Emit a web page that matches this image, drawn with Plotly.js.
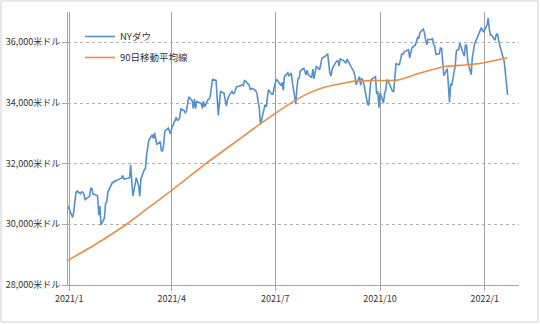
<!DOCTYPE html>
<html><head><meta charset="utf-8">
<script src="https://cdn.plot.ly/plotly-3.0.1.min.js"></script>
<style>html,body{margin:0;padding:0;background:#fff}#chart{width:540px;height:324px}</style>
</head><body><div id="chart"></div>
<script>
// NY Dow daily closes (2020/12/31 - 2022/1/21)
const dowDates = [
'2020-12-31',
'2021-01-04','2021-01-05','2021-01-06','2021-01-07','2021-01-08','2021-01-11','2021-01-12','2021-01-13','2021-01-14','2021-01-15','2021-01-19','2021-01-20','2021-01-21','2021-01-22','2021-01-25','2021-01-26','2021-01-27','2021-01-28','2021-01-29',
'2021-02-01','2021-02-02','2021-02-03','2021-02-04','2021-02-05','2021-02-08','2021-02-09','2021-02-10','2021-02-11','2021-02-12','2021-02-16','2021-02-17','2021-02-18','2021-02-19','2021-02-22','2021-02-23','2021-02-24','2021-02-25','2021-02-26',
'2021-03-01','2021-03-02','2021-03-03','2021-03-04','2021-03-05','2021-03-08','2021-03-09','2021-03-10','2021-03-11','2021-03-12','2021-03-15','2021-03-16','2021-03-17','2021-03-18','2021-03-19','2021-03-22','2021-03-23','2021-03-24','2021-03-25','2021-03-26','2021-03-29','2021-03-30','2021-03-31',
'2021-04-01','2021-04-05','2021-04-06','2021-04-07','2021-04-08','2021-04-09','2021-04-12','2021-04-13','2021-04-14','2021-04-15','2021-04-16','2021-04-19','2021-04-20','2021-04-21','2021-04-22','2021-04-23','2021-04-26','2021-04-27','2021-04-28','2021-04-29','2021-04-30',
'2021-05-03','2021-05-04','2021-05-05','2021-05-06','2021-05-07','2021-05-10','2021-05-11','2021-05-12','2021-05-13','2021-05-14','2021-05-17','2021-05-18','2021-05-19','2021-05-20','2021-05-21','2021-05-24','2021-05-25','2021-05-26','2021-05-27','2021-05-28',
'2021-06-01','2021-06-02','2021-06-03','2021-06-04','2021-06-07','2021-06-08','2021-06-09','2021-06-10','2021-06-11','2021-06-14','2021-06-15','2021-06-16','2021-06-17','2021-06-18','2021-06-21','2021-06-22','2021-06-23','2021-06-24','2021-06-25','2021-06-28','2021-06-29','2021-06-30',
'2021-07-01','2021-07-02','2021-07-06','2021-07-07','2021-07-08','2021-07-09','2021-07-12','2021-07-13','2021-07-14','2021-07-15','2021-07-16','2021-07-19','2021-07-20','2021-07-21','2021-07-22','2021-07-23','2021-07-26','2021-07-27','2021-07-28','2021-07-29','2021-07-30',
'2021-08-02','2021-08-03','2021-08-04','2021-08-05','2021-08-06','2021-08-09','2021-08-10','2021-08-11','2021-08-12','2021-08-13','2021-08-16','2021-08-17','2021-08-18','2021-08-19','2021-08-20','2021-08-23','2021-08-24','2021-08-25','2021-08-26','2021-08-27','2021-08-30','2021-08-31',
'2021-09-01','2021-09-02','2021-09-03','2021-09-07','2021-09-08','2021-09-09','2021-09-10','2021-09-13','2021-09-14','2021-09-15','2021-09-16','2021-09-17','2021-09-20','2021-09-21','2021-09-22','2021-09-23','2021-09-24','2021-09-27','2021-09-28','2021-09-29','2021-09-30',
'2021-10-01','2021-10-04','2021-10-05','2021-10-06','2021-10-07','2021-10-08','2021-10-11','2021-10-12','2021-10-13','2021-10-14','2021-10-15','2021-10-18','2021-10-19','2021-10-20','2021-10-21','2021-10-22','2021-10-25','2021-10-26','2021-10-27','2021-10-28','2021-10-29',
'2021-11-01','2021-11-02','2021-11-03','2021-11-04','2021-11-05','2021-11-08','2021-11-09','2021-11-10','2021-11-11','2021-11-12','2021-11-15','2021-11-16','2021-11-17','2021-11-18','2021-11-19','2021-11-22','2021-11-23','2021-11-24','2021-11-26','2021-11-29','2021-11-30',
'2021-12-01','2021-12-02','2021-12-03','2021-12-06','2021-12-07','2021-12-08','2021-12-09','2021-12-10','2021-12-13','2021-12-14','2021-12-15','2021-12-16','2021-12-17','2021-12-20','2021-12-21','2021-12-22','2021-12-23','2021-12-27','2021-12-28','2021-12-29','2021-12-30','2021-12-31',
'2022-01-03','2022-01-04','2022-01-05','2022-01-06','2022-01-07','2022-01-10','2022-01-11','2022-01-12','2022-01-13','2022-01-14','2022-01-18','2022-01-19','2022-01-20','2022-01-21'
];
const dowValues = [
30606.48,
30223.89,30391.60,30829.40,31041.13,31097.97,31008.69,31068.69,31060.47,30991.52,30814.26,30930.52,31188.38,31176.01,30996.98,30960.00,30937.04,30303.17,30603.36,29982.62,
30211.91,30687.48,30723.60,31055.86,31148.24,31385.76,31375.83,31437.80,31430.70,31458.40,31522.75,31613.02,31493.34,31494.32,31521.69,31537.35,31961.86,31402.01,30932.37,
31535.51,31391.52,31270.09,30924.14,31496.30,31802.44,31832.74,32297.02,32485.59,32778.64,32953.46,32825.95,33015.37,32862.30,32627.97,32731.20,32423.15,32420.06,32619.48,33072.88,33171.37,33066.96,32981.55,
33153.21,33527.19,33430.24,33446.26,33503.57,33800.60,33745.40,33677.27,33730.89,34035.99,34200.67,34077.63,33821.30,34137.31,33815.90,34043.49,33981.57,33984.93,33820.38,34060.36,33874.85,
34113.23,34133.03,34230.34,34548.53,34777.76,34742.82,34269.16,33587.66,34021.45,34382.13,34327.79,34060.66,33896.04,34084.15,34207.84,34393.98,34312.46,34323.05,34464.64,34529.45,
34575.31,34600.38,34577.04,34756.39,34630.24,34599.82,34447.14,34466.24,34479.60,34393.75,34299.33,34033.67,33823.45,33290.08,33876.97,33945.58,33874.24,34196.82,34433.84,34283.27,34292.29,34502.51,
34633.53,34786.35,34577.37,34681.79,34421.93,34870.16,34996.18,34888.79,34933.23,34987.02,34687.85,33962.04,34511.99,34798.00,34823.35,35061.55,35144.31,35058.52,34930.93,35084.53,34935.47,
34838.16,35116.40,34792.67,35064.25,35208.51,35101.85,35264.67,35484.97,35499.85,35515.38,35625.40,35343.28,34960.69,34894.12,35120.08,35335.71,35366.26,35405.50,35213.12,35455.80,35399.84,35360.73,
35312.53,35443.82,35369.09,35100.00,35031.07,34879.38,34607.72,34869.63,34577.57,34814.39,34751.32,34584.88,33970.47,33919.84,34258.32,34764.82,34798.00,34869.37,34299.99,34390.72,33843.92,
34326.46,34002.92,34314.67,34416.99,34754.94,34746.25,34496.06,34378.34,34377.81,34912.56,35294.76,35258.61,35457.31,35609.34,35603.08,35677.02,35741.15,35756.88,35490.69,35730.48,35819.56,
35913.84,36052.63,36157.58,36124.23,36327.95,36432.22,36319.98,36079.94,35921.23,36100.31,36087.45,36142.22,35931.05,35870.95,35601.98,35619.25,35813.80,35804.38,34899.34,35135.94,34483.72,
34022.04,34639.79,34580.08,35227.03,35719.43,35754.09,35754.69,35970.99,35650.95,35544.18,35927.43,35897.64,35365.44,34932.16,35492.70,35753.89,35950.56,36302.38,36398.21,36488.63,36398.08,36338.30,
36585.06,36799.65,36407.11,36236.47,36231.66,36068.87,36252.02,36290.32,36113.62,35911.81,35368.47,35028.65,34715.39,34265.37
];
// 90-day moving average
const maDates = ['2020-12-31','2021-01-25','2021-02-21','2021-03-10','2021-04-01','2021-05-01','2021-06-01','2021-06-18','2021-07-01','2021-07-14','2021-07-29','2021-08-13','2021-08-28','2021-09-09','2021-09-25','2021-10-16','2021-11-06','2021-11-26','2021-12-15','2021-12-29','2022-01-21'];
const maValues = [28810,29360,30020,30500,31120,32000,32850,33320,33660,33980,34300,34520,34640,34720,34740,34755,35000,35195,35255,35310,35490];

const seriesNames = ['NYダウ','90日移動平均線'];
const xTickVals = ['2021-01-01','2021-04-01','2021-07-01','2021-10-01','2022-01-01'];
const xTickText = ['2021/1','2021/4','2021/7','2021/10','2022/1'];
const yTickVals = [28000,30000,32000,34000,36000];
const yTickText = ['28,000米ドル','30,000米ドル','32,000米ドル','34,000米ドル','36,000米ドル'];

const W = 540, H = 324, L = 68, R = 21, T = 12, B = 39;
const pw = W - L - R, ph = H - T - B;
const px = x => (x - L) / pw;
const py = y => (H - B - y) / ph;

const font = "'Noto Sans CJK JP', 'Noto Sans', sans-serif";

const traces = [
  {x: dowDates, y: dowValues, name: seriesNames[0], type: 'scatter', mode: 'lines',
   legendgroup: 'a', line: {color: '#5590CB', width: 1.6}},
  {x: maDates, y: maValues, name: seriesNames[1], type: 'scatter', mode: 'lines',
   legendgroup: 'b', line: {color: '#E98E46', width: 1.6, shape: 'spline', smoothing: 0.6}}
];

const layout = {
  width: W, height: H,
  margin: {l: L, r: R, t: T, b: B},
  paper_bgcolor: '#fff', plot_bgcolor: '#fff',
  font: {family: font, size: 9, color: '#333'},
  showlegend: true,
  legend: {x: px(80), y: py(22), xanchor: 'left', yanchor: 'top',
           traceorder: 'grouped', tracegroupgap: 2,
           bgcolor: 'rgba(0,0,0,0)', font: {size: 9.5, color: '#333'}, itemwidth: 30},
  xaxis: {type: 'date', range: ['2020-12-31', '2022-01-31'],
          tickvals: xTickVals, ticktext: xTickText,
          showgrid: true, gridcolor: '#a0a0a0', gridwidth: 1,
          showline: true, linecolor: '#a6a6a6', linewidth: 1,
          ticks: 'outside', ticklen: 5, tickcolor: '#a6a6a6',
          zeroline: false, tickfont: {size: 9, color: '#333'}},
  yaxis: {range: [28000, 37000], tickvals: yTickVals, ticktext: yTickText,
          showgrid: true, gridcolor: '#b0b0b0', griddash: 'dot', gridwidth: 1,
          showline: true, linecolor: '#a6a6a6', linewidth: 1,
          ticks: 'outside', ticklen: 5, tickcolor: '#a6a6a6',
          zeroline: false, tickfont: {size: 9, color: '#333'}},
  shapes: [
    {type: 'rect', xref: 'paper', yref: 'paper',
     x0: px(1), x1: px(538), y0: py(322), y1: py(1),
     line: {color: '#d0d0d0', width: 1}, fillcolor: 'rgba(0,0,0,0)', layer: 'below'}
  ]
};

Plotly.newPlot('chart', traces, layout, {staticPlot: true, displayModeBar: false});
</script>
</body></html>
